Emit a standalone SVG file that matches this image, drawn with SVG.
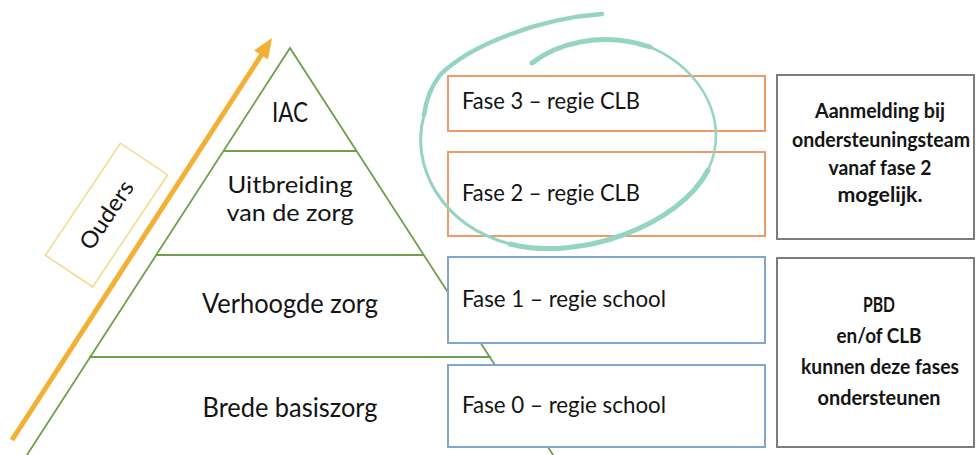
<svg xmlns="http://www.w3.org/2000/svg" width="976" height="455" viewBox="0 0 976 455">
<style>
.lbl{font-family:Lato,"Liberation Sans",sans-serif;fill:#141414}
.pyr{font-size:26px;text-anchor:middle}
.pyr2{font-size:23px;text-anchor:middle}
.fase{font-size:24px}
.note{font-size:20px;font-weight:700;text-anchor:middle}
.edge{fill:none;stroke:#6f9f4d;stroke-width:1.8}
.orange{fill:#fff;stroke:#ee9b6c;stroke-width:2}
.blue{fill:#fff;stroke:#7fa6cf;stroke-width:2}
.gray{fill:#fff;stroke:#7d7d7d;stroke-width:2}
.ring{fill:none;stroke:#95d4c3;stroke-linecap:round}
</style>
<rect width="976" height="455" fill="#fff"/>
<g id="pyramid">
<polyline class="edge" points="25,458 290,48 555,458"/>
<line class="edge" x1="223" y1="151" x2="357" y2="151"/>
<line class="edge" x1="156" y1="255" x2="424" y2="255"/>
<line class="edge" x1="89" y1="357" x2="491" y2="357"/>
</g>
<g id="level-iac"><text class="lbl pyr" x="290" y="122" textLength="36" lengthAdjust="spacingAndGlyphs">IAC</text></g>
<g id="level-uitbreiding">
<text class="lbl pyr2" x="290" y="193" textLength="125" lengthAdjust="spacingAndGlyphs">Uitbreiding</text>
<text class="lbl pyr2" x="290" y="221" textLength="127" lengthAdjust="spacingAndGlyphs">van de zorg</text>
</g>
<g id="level-verhoogd"><text class="lbl pyr" x="290" y="313" textLength="176" lengthAdjust="spacingAndGlyphs">Verhoogde zorg</text></g>
<g id="level-basis"><text class="lbl pyr" x="290" y="417" textLength="175" lengthAdjust="spacingAndGlyphs">Brede basiszorg</text></g>
<g id="connectors">
<line x1="12" y1="440" x2="262" y2="54" stroke="#f2b035" stroke-width="5"/>
<polygon points="272,38 268,59.5 254,50.5" fill="#f2b035"/>
</g>
<g id="ouders" transform="translate(106.5,215) rotate(-56.2)">
<rect x="-67.4" y="-28.4" width="134.8" height="56.9" fill="#fff" stroke="#f3d98a" stroke-width="1.5"/>
<text class="lbl" x="0" y="8" font-size="23" text-anchor="middle" textLength="78" lengthAdjust="spacingAndGlyphs">Ouders</text>
</g>
<g id="fase3"><rect class="orange" x="448" y="76" width="317" height="55"/><text class="lbl fase" x="462" y="109" textLength="178" lengthAdjust="spacingAndGlyphs">Fase 3 – regie CLB</text></g>
<g id="fase2"><rect class="orange" x="448" y="152" width="317" height="84"/><text class="lbl fase" x="462" y="201" textLength="178" lengthAdjust="spacingAndGlyphs">Fase 2 – regie CLB</text></g>
<g id="fase1"><rect class="blue" x="448" y="257" width="317" height="86"/><text class="lbl fase" x="462" y="307" textLength="204" lengthAdjust="spacingAndGlyphs">Fase 1 – regie school</text></g>
<g id="fase0"><rect class="blue" x="448" y="365" width="317" height="82"/><text class="lbl fase" x="462" y="413" textLength="204" lengthAdjust="spacingAndGlyphs">Fase 0 – regie school</text></g>
<g id="note-aanmelding">
<rect class="gray" x="777" y="75" width="197" height="164"/>
<text class="lbl note" x="880" y="118" textLength="130" lengthAdjust="spacingAndGlyphs">Aanmelding bij</text>
<text class="lbl note" x="881" y="147" textLength="178" lengthAdjust="spacingAndGlyphs">ondersteuningsteam</text>
<text class="lbl note" x="880" y="175" textLength="103" lengthAdjust="spacingAndGlyphs">vanaf fase 2</text>
<text class="lbl note" x="880" y="202" textLength="85" lengthAdjust="spacingAndGlyphs">mogelijk.</text>
</g>
<g id="note-pbd">
<rect class="gray" x="777" y="258" width="197" height="189"/>
<text class="lbl note" x="879" y="312" textLength="32" lengthAdjust="spacingAndGlyphs">PBD</text>
<text class="lbl note" x="879" y="343" textLength="85" lengthAdjust="spacingAndGlyphs">en/of CLB</text>
<text class="lbl note" x="880" y="374" textLength="158" lengthAdjust="spacingAndGlyphs">kunnen deze fases</text>
<text class="lbl note" x="879" y="405" textLength="123" lengthAdjust="spacingAndGlyphs">ondersteunen</text>
</g>
<g id="highlight-ring">
<path class="ring" stroke-width="4.5" d="M602,14 C540,18 470,45 440,75 C430,88 426,100 424,115"/>
<path class="ring" stroke-width="3" d="M424,115 C410,165 440,225 510,244"/>
<path class="ring" stroke-width="5" d="M510,244 C580,262 680,225 708,170"/>
<path class="ring" stroke-width="2.5" d="M708,170 C730,125 705,70 650,47"/>
<path class="ring" stroke-width="5" d="M650,47 C600,30 555,45 532,63"/>
</g>
</svg>
